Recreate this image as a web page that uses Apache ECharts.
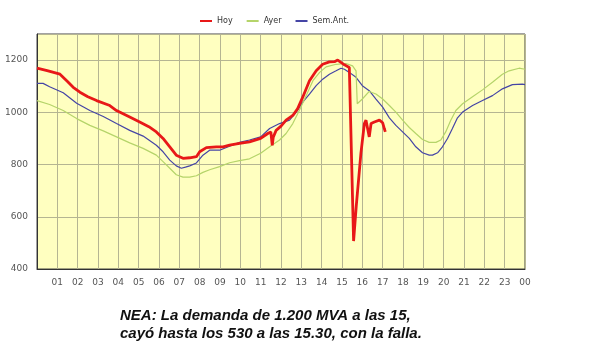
<!DOCTYPE html>
<html>
<head>
<meta charset="utf-8">
<script src="https://cdn.jsdelivr.net/npm/echarts@6/dist/echarts.min.js"></script>
<style>
html,body{margin:0;padding:0;background:#fff;}
#c{width:595px;height:361px;}
</style>
</head>
<body>
<div id="c"></div>
<script>
const seriesNames = ['Hoy', 'Ayer', 'Sem.Ant.'];
const hourLabels = ['01','02','03','04','05','06','07','08','09','10','11','12','13','14','15','16','17','18','19','20','21','22','23','00'];
const captionLines = ['NEA: La demanda de 1.200 MVA a las 15,', 'cayó hasta los 530 a las 15.30, con la falla.'];

const hoy = [[0,1169],[0.5,1160],[1.13,1146],[1.5,1118],[1.78,1096],[2.11,1077],[2.5,1060],[2.93,1045],[3.58,1026],[3.91,1007],[4.56,982],[5.05,963],[5.5,945],[5.87,925],[6.2,900],[6.53,868],[6.85,836],[7.18,824],[7.51,826],[7.84,830],[8.0,849],[8.33,865],[8.82,868],[9.15,868],[9.47,874],[9.96,881],[10.45,887],[11.0,900],[11.35,919],[11.5,925],[11.57,874],[11.62,905],[11.76,931],[12.0,947],[12.25,970],[12.58,988],[12.82,1014],[13.07,1058],[13.4,1121],[13.73,1159],[14.05,1184],[14.38,1193],[14.63,1194],[14.79,1200],[14.95,1191],[15.12,1182],[15.36,1172],[15.44,1165],[15.57,507],[15.7,640],[15.93,843],[16.1,957],[16.18,970],[16.26,963],[16.34,906],[16.43,957],[16.59,963],[16.84,970],[17.0,960],[17.08,938],[17.13,925]];

const ayer = [[0,1045],[0.62,1030],[1.29,1007],[1.95,976],[2.6,950],[3.26,929],[3.91,906],[4.56,883],[5.22,862],[5.87,836],[6.2,811],[6.53,786],[6.85,761],[7.18,752],[7.51,752],[7.84,757],[8.16,770],[8.49,780],[8.98,792],[9.47,807],[9.96,815],[10.45,822],[11.0,843],[11.44,868],[11.93,894],[12.25,919],[12.58,957],[12.9,1007],[13.24,1064],[13.57,1121],[13.9,1153],[14.22,1174],[14.71,1184],[15.2,1187],[15.52,1178],[15.69,1159],[15.75,1033],[16.0,1051],[16.34,1080],[16.67,1070],[17.0,1051],[17.33,1026],[17.65,1001],[17.98,970],[18.31,942],[18.63,919],[18.96,896],[19.29,885],[19.62,885],[19.86,894],[20.1,925],[20.35,970],[20.6,1007],[20.93,1033],[21.42,1060],[21.91,1086],[22.4,1115],[22.89,1146],[23.22,1159],[23.71,1169],[24,1165]];

const semAnt = [[0,1111],[0.3,1111],[0.62,1098],[1.29,1075],[1.95,1035],[2.6,1007],[3.26,984],[3.91,957],[4.56,931],[5.22,909],[5.87,874],[6.2,849],[6.53,817],[6.85,795],[7.1,786],[7.3,790],[7.51,795],[7.84,806],[8.16,836],[8.49,855],[8.98,855],[9.47,870],[9.96,885],[10.45,894],[11.0,906],[11.44,938],[11.93,957],[12.42,970],[12.75,1001],[13.07,1039],[13.4,1070],[13.73,1102],[14.05,1127],[14.38,1146],[14.71,1159],[14.95,1169],[15.12,1165],[15.36,1153],[15.69,1134],[16.0,1102],[16.34,1083],[16.67,1051],[17.0,1020],[17.33,979],[17.65,950],[17.98,925],[18.31,900],[18.63,868],[18.96,845],[19.29,836],[19.45,836],[19.7,845],[19.94,868],[20.19,900],[20.43,938],[20.68,979],[20.93,1001],[21.42,1026],[21.91,1045],[22.4,1064],[22.89,1090],[23.38,1106],[23.87,1108],[24,1106]];

const chart = echarts.init(document.getElementById('c'), null, {renderer: 'canvas'});
chart.setOption({
  animation: false,
  backgroundColor: '#ffffff',
  legend: {
    data: seriesNames,
    left: 195,
    top: 12,
    icon: 'rect',
    itemWidth: 12,
    itemHeight: 2,
    itemGap: 14,
    textStyle: {fontFamily: 'DejaVu Sans', fontSize: 8, color: '#333'}
  },
  grid: {
    left: 37, right: 70, top: 34, bottom: 92,
    show: true, backgroundColor: '#ffffc0', borderColor: '#444', borderWidth: 1
  },
  xAxis: {
    type: 'value', min: 0, max: 24, interval: 1,
    axisLine: {show: true, lineStyle: {color: '#333'}},
    axisTick: {show: false},
    splitLine: {show: true, lineStyle: {color: '#b5b592', width: 1}},
    axisLabel: {
      margin: 9, fontFamily: 'DejaVu Sans', fontSize: 9, color: '#555',
      showMinLabel: false,
      formatter: v => (v >= 1 && v <= 24) ? hourLabels[v - 1] : ''
    }
  },
  yAxis: {
    type: 'value', min: 400, max: 1300, interval: 200,
    axisLine: {show: true, lineStyle: {color: '#333'}},
    axisTick: {show: false},
    splitLine: {show: true, lineStyle: {color: '#b5b592', width: 1}},
    axisLabel: {
      margin: 9, fontFamily: 'DejaVu Sans', fontSize: 9, color: '#555',
      showMaxLabel: false,
      formatter: v => (v === 1300 ? '' : String(v))
    }
  },
  series: [
    {name: 'Sem.Ant.', type: 'line', data: semAnt, symbol: 'none', z: 2,
     lineStyle: {color: '#4545a5', width: 1.2}, itemStyle: {color: '#4545a5'}},
    {name: 'Ayer', type: 'line', data: ayer, symbol: 'none', z: 3,
     lineStyle: {color: '#b5d46a', width: 1.2}, itemStyle: {color: '#b5d46a'}},
    {name: 'Hoy', type: 'line', data: hoy, symbol: 'none', z: 4,
     lineStyle: {color: '#e81818', width: 2.8}, itemStyle: {color: '#e81818'}}
  ],
  graphic: [
    {type: 'text', left: 120, top: 308, style: {text: captionLines[0], font: 'italic bold 15px "Liberation Sans", Arial', fill: '#111'}},
    {type: 'text', left: 120, top: 326, style: {text: captionLines[1], font: 'italic bold 15px "Liberation Sans", Arial', fill: '#111'}}
  ]
});
</script>
</body>
</html>
